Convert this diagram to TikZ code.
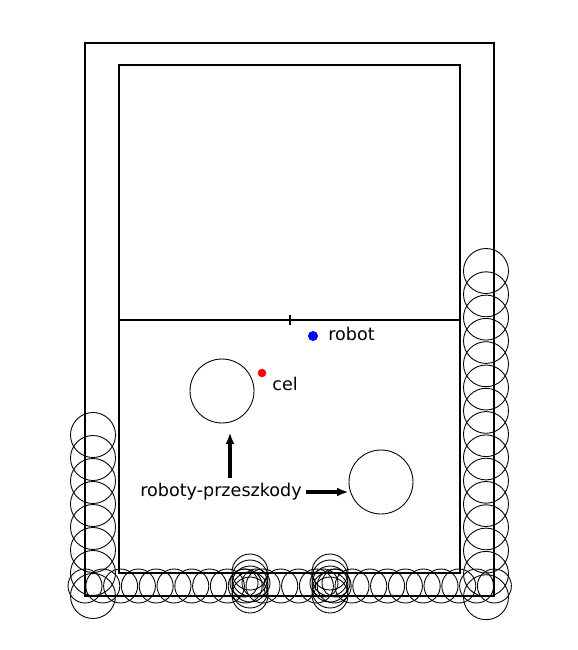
\documentclass[tikz,border=0pt]{standalone}
\usepackage{fontspec}
\setmainfont{DejaVu Sans}
\usepackage{xcolor}
\usetikzlibrary{calc,arrows.meta}
\definecolor{robotblue}{HTML}{0000FF}
\definecolor{celred}{HTML}{FF0000}

\begin{document}
\begin{tikzpicture}[
    x=0.02cm, y=-0.02cm,
    line width=0.4pt,
    >={Latex[length=6.5pt,width=5pt]},
    every node/.style={font=\fontsize{10}{12}\selectfont, inner sep=0pt},
    wall/.style={line width=1.3pt},
    pole/.style={line width=0.6pt},
    ring/.style={line width=0.5pt},
    obstacle/.style={circle, draw, line width=0.5pt, minimum size=1.28cm},
    dot/.style={circle, fill=#1, minimum size=0.2cm},
    pointer/.style={->, line width=1.8pt}
]
\useasboundingbox (0,0) rectangle (578,650);
%====================================================
% BOISKO
%====================================================
\draw[wall] (85,43) rectangle (494,596);
\draw[pole] (119,65) rectangle (460,573);
\draw[pole] (119,320) -- (460,320);
\draw[pole] (290,315) -- (290,325);

%====================================================
% KOLA PRZY SCIANACH
%====================================================
\foreach \k in {0,...,7}
{
    \draw[ring] (93,435+23*\k) circle (22.5);
}
\foreach \k in {0,...,14}
{
    \draw[ring] (486,271+23.3*\k) circle (22.5);
}
\foreach \k in {0,...,23}
{
    \draw[ring] (85+17.8*\k,586) circle (17);
}
\foreach \cx in {250,330}
{
    \foreach \cy in {572,578,584,590,595}
    {
        \draw[ring] (\cx,\cy) circle (18);
    }
    \draw[ring] (\cx-6,583) circle (14);
    \draw[ring] (\cx+6,583) circle (14);
}

%====================================================
% ROBOT I CEL
%====================================================
\node[dot=robotblue] (robot) at (313,336) {};
\node[anchor=west] (robotlabel) at (328,334) {robot};
\node[dot=celred, minimum size=0.17cm] (cel) at (262,373) {};
\node[anchor=west] (cellabel) at (272,384) {cel};

%====================================================
% ROBOTY-PRZESZKODY
%====================================================
\node[obstacle] (obst1) at (222,391) {};
\node[obstacle] (obst2) at (381,482) {};
\node (przeszkody) at (221,492) {roboty-przeszkody};
\draw[pointer] ($(przeszkody.north)+(9,-5)$) -- ($(obst1.south)+(8,9)$);
\draw[pointer] ($(przeszkody.east)+(4,0)$) -- (przeszkody.east -| obst2.west);
\end{tikzpicture}
\end{document}
